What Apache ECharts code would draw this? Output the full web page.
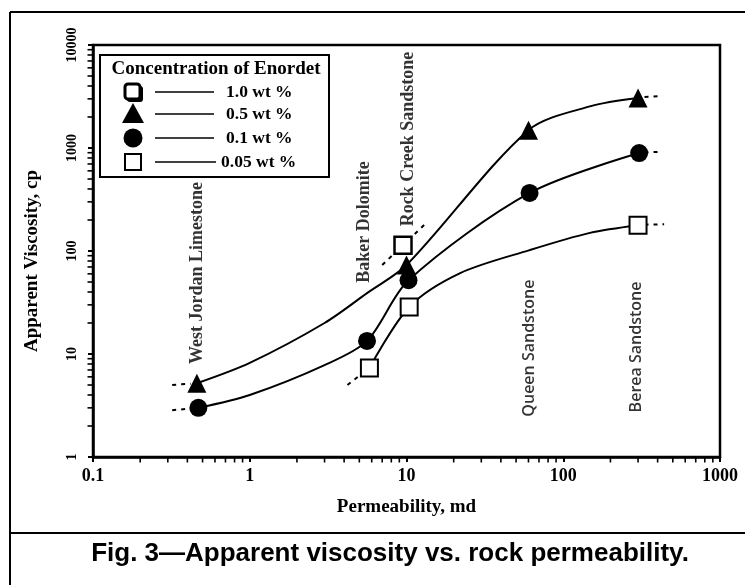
<!DOCTYPE html>
<html><head><meta charset="utf-8">
<script src="https://cdn.jsdelivr.net/npm/echarts@6/dist/echarts.min.js"></script>
<style>html,body{margin:0;padding:0;background:#fff}#c{width:745px;height:585px}</style>
</head><body><div id="c"></div>
<script>
// ---- data ----
const xTicks = [0.1, 1, 10, 100, 1000];
const yTicks = [1, 10, 100, 1000, 10000];
const minorFactors = [2, 3, 4, 5, 6, 7, 8, 9];
const legendNames = ['1.0 wt %', '0.5 wt %', '0.1 wt %', '0.05 wt %'];
const rocks = ['West Jordan Limestone', 'Baker Dolomite', 'Rock Creek Sandstone', 'Queen Sandstone', 'Berea Sandstone'];
const rockLabelPos = [[0.46, 61], [5.4, 191], [10.2, 1222], [61, 11.4], [295, 11.7]];

// measured points
const pts10 = [[9.5, 114]];
const pts05 = [[0.46, 5.2], [10, 73], [60, 1490], [300, 3060]];
const pts01 = [[0.47, 3.0], [5.6, 13.4], [10.3, 52], [61, 366], [305, 894]];
const pts005 = [[5.8, 7.3], [10.4, 28.6], [300, 178]];

// drawn fitted curves
const curve05 = [[0.46, 5.2], [1, 8.2], [3, 20], [5.6, 39], [10, 73], [60, 1490], [150, 2550], [300, 3060]];
const curve01 = [[0.47, 3.0], [1, 4.0], [3, 7.8], [5.6, 13.4], [10.3, 52], [61, 366], [305, 894]];
const curve005 = [[5.8, 7.3], [10.4, 28.6], [22, 61], [61, 102], [148, 150], [300, 178]];

// dashed extensions
const dash10 = [[7, 73], [13.5, 190]];
const dash05L = [[0.32, 5.0], [0.42, 5.15]];
const dash05R = [[330, 3120], [430, 3200]];
const dash01L = [[0.32, 2.85], [0.42, 2.95]];
const dash01R = [[330, 905], [430, 920]];
const dash005L = [[4.2, 5.0], [5.3, 6.6]];
const dash005R = [[330, 180], [440, 182]];

// ---- build ----
const serif = '"Liberation Serif","Times New Roman",serif';
const sans = '"Liberation Sans",Arial,sans-serif';
const xDecades = xTicks.slice(0, -1), yDecades = yTicks.slice(0, -1);
const xMinor = [], yMinor = [];
xDecades.forEach(d => minorFactors.forEach(f => xMinor.push([+(d * f).toPrecision(3), 1])));
yDecades.forEach(d => minorFactors.forEach(f => yMinor.push([0.1, +(d * f).toPrecision(3)])));

function curve(data) {
  return {type: 'line', data, smooth: 0.3, symbol: 'none', silent: true, z: 2,
    lineStyle: {color: '#000', width: 2}};
}
function dashed(data) {
  return {type: 'line', data, symbol: 'none', silent: true, z: 2,
    lineStyle: {color: '#000', width: 2, type: [4, 5]}};
}
function markers(name, data, symbol, size, filled, bw) {
  return {type: 'scatter', name, data, symbol, symbolSize: size, z: 5,
    itemStyle: filled ? {color: '#000', opacity: 1} : {color: '#fff', borderColor: '#000', borderWidth: bw, opacity: 1}};
}

const chart = echarts.init(document.getElementById('c'), null, {renderer: 'canvas'});
const legendRows = [92, 114, 138, 162];
const legendGraphics = [
  {type: 'rect', shape: {x: 100, y: 55, width: 229, height: 122}, style: {fill: '#fff', stroke: '#000', lineWidth: 2}, z: 10},
  {type: 'text', x: 216, y: 69, z: 11, style: {text: 'Concentration of Enordet', fontFamily: serif, fontWeight: 'bold', fontSize: 19, fill: '#000', align: 'center', verticalAlign: 'middle'}},
  // 1.0 wt% symbol (bold rounded square)
  {type: 'rect', shape: {x: 127, y: 86, width: 16, height: 16, r: 3}, style: {fill: '#000'}, z: 11},
  {type: 'rect', shape: {x: 125, y: 84, width: 15, height: 15, r: 3}, style: {fill: '#fff', stroke: '#000', lineWidth: 3}, z: 11},
  {type: 'polygon', shape: {points: [[133, 103], [144, 123], [122, 123]]}, style: {fill: '#000'}, z: 11},
  {type: 'circle', shape: {cx: 133, cy: 138, r: 9.5}, style: {fill: '#000'}, z: 11},
  {type: 'rect', shape: {x: 125, y: 154, width: 16, height: 16}, style: {fill: '#fff', stroke: '#000', lineWidth: 2}, z: 11}
];
legendRows.forEach((y, i) => {
  legendGraphics.push({type: 'line', shape: {x1: 155, y1: y, x2: i === 3 ? 216 : 214, y2: y}, style: {stroke: '#000', lineWidth: 1.5}, z: 11});
  legendGraphics.push({type: 'text', x: i === 3 ? 221 : 226, y: y, z: 11, style: {text: legendNames[i], fontFamily: serif, fontWeight: 'bold', fontSize: 17.5, fill: '#000', align: 'left', verticalAlign: 'middle'}});
});

const frame = [
  {type: 'line', shape: {x1: 10, y1: 12, x2: 10, y2: 585}, style: {stroke: '#000', lineWidth: 2}},
  {type: 'line', shape: {x1: 10, y1: 12, x2: 745, y2: 12}, style: {stroke: '#000', lineWidth: 2}},
  {type: 'line', shape: {x1: 10, y1: 533, x2: 745, y2: 533}, style: {stroke: '#000', lineWidth: 2}},
  {type: 'text', x: 390, y: 554, style: {text: 'Fig. 3\u2014Apparent viscosity vs. rock permeability.', fontFamily: sans, fontWeight: 'bold', fontSize: 26, fill: '#000', align: 'center', verticalAlign: 'middle'}}
];

const option = {
  backgroundColor: '#fff',
  animation: false,
  grid: {left: 93, right: 25, top: 45, bottom: 128, show: true, borderColor: '#000', borderWidth: 2.5},
  xAxis: {
    type: 'log', logBase: 10, min: 0.1, max: 1000,
    name: 'Permeability, md', nameLocation: 'middle', nameGap: 41,
    nameTextStyle: {fontFamily: serif, fontWeight: 'bold', fontSize: 19, color: '#000'},
    axisLine: {lineStyle: {color: '#000', width: 2.5}},
    axisTick: {show: true, length: 5, lineStyle: {color: '#000', width: 2}},
    splitLine: {show: false},
    axisLabel: {margin: 10, fontFamily: serif, fontWeight: 'bold', fontSize: 18, color: '#000',
      formatter: v => String(+v.toPrecision(3))}
  },
  yAxis: {
    type: 'log', logBase: 10, min: 1, max: 10000,
    name: 'Apparent Viscosity, cp', nameLocation: 'middle', nameGap: 51, nameRotate: 90,
    nameTextStyle: {fontFamily: serif, fontWeight: 'bold', fontSize: 19, color: '#000', padding: [0, 20, 0, 0]},
    axisLine: {lineStyle: {color: '#000', width: 2.5}},
    axisTick: {show: true, length: 5, lineStyle: {color: '#000', width: 2}},
    splitLine: {show: false},
    axisLabel: {margin: 14, rotate: 90, align: 'center', verticalAlign: 'bottom', fontFamily: serif, fontWeight: 'bold', fontSize: 14, color: '#000',
      formatter: v => String(+v.toPrecision(5))}
  },
  graphic: frame.concat(legendGraphics),
  series: [
    // minor ticks
    {type: 'scatter', data: xMinor, symbol: 'rect', symbolSize: [1.6, 5], symbolOffset: [0, 3], clip: false, silent: true, itemStyle: {color: '#000', opacity: 1}, z: 1},
    {type: 'scatter', data: yMinor, symbol: 'rect', symbolSize: [5, 1.6], symbolOffset: [-3, 0], clip: false, silent: true, itemStyle: {color: '#000', opacity: 1}, z: 1},
    curve(curve05), curve(curve01), curve(curve005),
    dashed(dash10), dashed(dash05L), dashed(dash05R), dashed(dash01L), dashed(dash01R), dashed(dash005L), dashed(dash005R),
    markers(legendNames[1], pts05, 'triangle', 19, true),
    markers(legendNames[2], pts01, 'circle', 18, true),
    markers(legendNames[3], pts005, 'rect', 17, false, 2),
    markers(legendNames[0], pts10, 'rect', 17, false, 2.5),
    // rock type annotations
    {type: 'scatter', symbolSize: 1, silent: true, itemStyle: {color: 'transparent'}, z: 4,
      data: rocks.map((r, i) => ({name: r, value: rockLabelPos[i]})),
      label: {show: true, position: 'inside', rotate: 90, align: 'center', verticalAlign: 'middle', formatter: '{b}', color: '#000',
        fontFamily: serif, fontWeight: 'bold', fontSize: 18}}
  ]
};
// sans-serif style for the two sandstone labels on the right
option.series[option.series.length - 1].data.forEach((d, i) => {
  if (i >= 3) d.label = {fontFamily: '"Open Sans","DejaVu Sans",sans-serif', fontWeight: 600, fontSize: 16};
});
chart.setOption(option);
</script></body></html>
